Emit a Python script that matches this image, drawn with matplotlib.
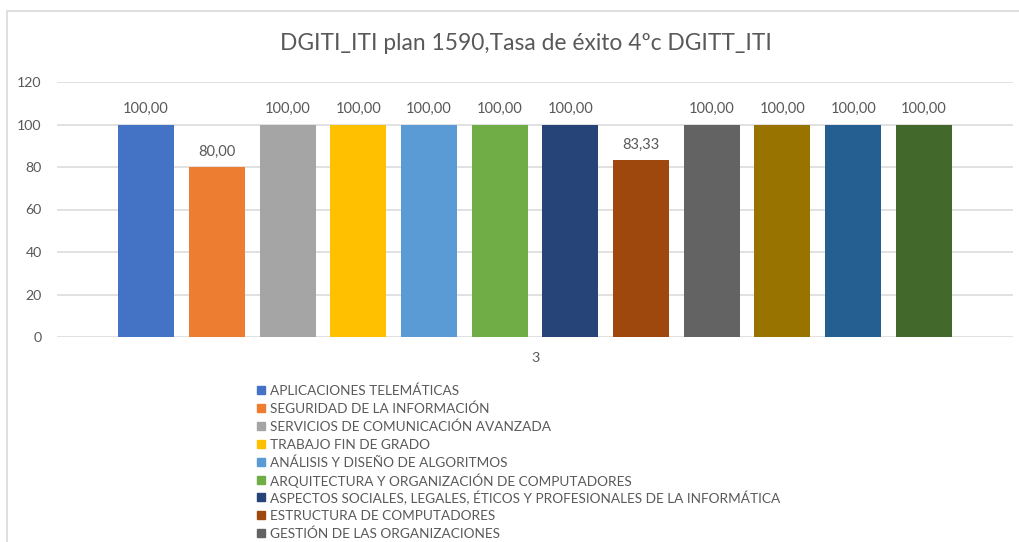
import matplotlib
matplotlib.use("Agg")
import matplotlib.pyplot as plt
from matplotlib.patches import Rectangle
import numpy as np

plt.rcParams['font.family'] = ['Lato', 'DejaVu Sans']

title = "DGITI_ITI plan 1590,Tasa de éxito 4ºc DGITT_ITI"
category = "3"
subjects = [
    "APLICACIONES TELEMÁTICAS",
    "SEGURIDAD DE LA INFORMACIÓN",
    "SERVICIOS DE COMUNICACIÓN AVANZADA",
    "TRABAJO FIN DE GRADO",
    "ANÁLISIS Y DISEÑO DE ALGORITMOS",
    "ARQUITECTURA Y ORGANIZACIÓN DE COMPUTADORES",
    "ASPECTOS SOCIALES, LEGALES, ÉTICOS Y PROFESIONALES DE LA INFORMÁTICA",
    "ESTRUCTURA DE COMPUTADORES",
    "GESTIÓN DE LAS ORGANIZACIONES",
    "INGENIERÍA DEL SOFTWARE",
    "REDES DE COMPUTADORES",
    "SISTEMAS OPERATIVOS",
]
values = [100.00, 80.00, 100.00, 100.00, 100.00, 100.00, 100.00, 83.33,
          100.00, 100.00, 100.00, 100.00]
colors = ["#4472C4", "#ED7D31", "#A5A5A5", "#FFC000", "#5B9BD5", "#70AD47",
          "#264478", "#9E480E", "#636363", "#997300", "#255E91", "#43682B"]
yticks = [0, 20, 40, 60, 80, 100, 120]

W, H = 1019, 542
fig = plt.figure(figsize=(W / 100, H / 100), dpi=100)
text_col = "#595959"

# chart frame
fig.patches.append(Rectangle((7 / W, -0.1), 1.2, 1 - 11 / H + 0.1,
                             transform=fig.transFigure, fill=False,
                             edgecolor="#D9D9D9", linewidth=1.2))

ax = fig.add_axes([57 / W, 1 - 337 / H, (1013 - 57) / W, (337 - 82) / H])
x = np.arange(len(values))
bw = 0.792
for i, (v, c) in enumerate(zip(values, colors)):
    ax.bar(x[i], v, width=bw, color=c, zorder=3)
    ax.text(x[i], v + 4, f"{v:.2f}".replace(".", ","), ha="center",
            va="bottom", fontsize=10.5, color=text_col)

ax.set_xlim(-1.26, len(values) - 1 + 1.26)
ax.set_ylim(0, 120)
ax.set_yticks(yticks)
ax.set_yticklabels([str(t) for t in yticks], fontsize=10.2, color=text_col)
ax.set_xticks([(len(values) - 1) / 2])
ax.set_xticklabels([category], fontsize=10.2, color=text_col)
ax.tick_params(axis="x", length=0, pad=11)
ax.tick_params(axis="y", length=0, pad=11)
ax.grid(axis="y", color="#D9D9D9", linewidth=1.1, zorder=0)
for s in ax.spines.values():
    s.set_visible(False)

fig.text(526 / W, 1 - 44 / H, title, ha="center", va="center", fontsize=16.4,
         color=text_col)

# legend: one row per subject, rows below the bottom edge are not shown
row0, pitch = 390, 17.9
for i, (lab, c) in enumerate(zip(subjects, colors)):
    yc = row0 + i * pitch
    if yc > H:
        break
    fig.patches.append(Rectangle((257 / W, 1 - (yc + 4) / H), 8 / W, 8 / H,
                                 transform=fig.transFigure, color=c))
    fig.text(270 / W, 1 - yc / H, lab, ha="left", va="center_baseline",
             fontsize=9.8, color=text_col)

fig.savefig("out.png", dpi=100)
